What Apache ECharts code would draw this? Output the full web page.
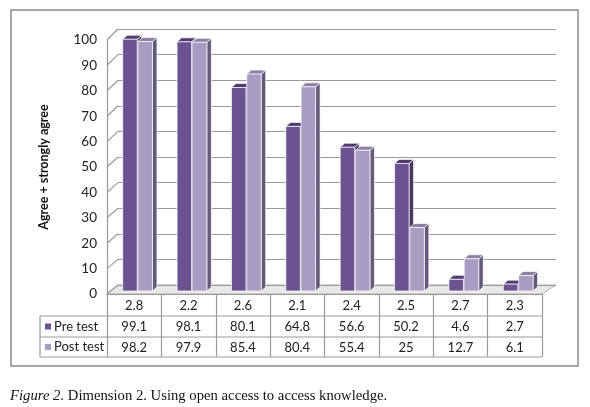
<!DOCTYPE html>
<html><head><meta charset="utf-8">
<script src="https://cdn.jsdelivr.net/npm/echarts@6/dist/echarts.min.js"></script>
<style>html,body{margin:0;padding:0;background:#fff}#c{width:590px;height:407px}</style>
</head><body><div id="c"></div>
<script>
const categories = ['2.8', '2.2', '2.6', '2.1', '2.4', '2.5', '2.7', '2.3'];
const seriesNames = ['Pre test', 'Post test'];
const preTest = [99.1, 98.1, 80.1, 64.8, 56.6, 50.2, 4.6, 2.7];
const postTest = [98.2, 97.9, 85.4, 80.4, 55.4, 25, 12.7, 6.1];
const yTicks = [0, 10, 20, 30, 40, 50, 60, 70, 80, 90, 100];
const yAxisTitle = 'Agree + strongly agree';
const captionItalic = 'Figure 2.';
const captionRest = ' Dimension 2. Using open access to access knowledge.';

const W = 590, H = 407;
const F = {l: 107, r: 542, t: 40, b: 294};   // front plane
const B = {l: 118, r: 556, t: 29, b: 285};   // back wall
const yMax = yTicks[yTicks.length - 1];
const colors = {
  pre:  {front: '#6B5392', top: '#4F3C70', side: '#48395F'},
  post: {front: '#A99CC2', top: '#8C80A6', side: '#625A78'}
};
const FONT = 'Lato, "Open Sans", sans-serif';
const TXT = '#222';

function makeRender(key, offFrac) {
  const c = colors[key];
  return function (params, api) {
    const i = api.value(0), v = api.value(1);
    const base = api.coord([i, 0]);
    const top = api.coord([i, v]);
    const bw = api.size([1, 0])[0];
    const w = bw * 0.266, dx = 4.5, dy = -4, lift = 3;
    const x0 = base[0] + bw * offFrac, x1 = x0 + w;
    const y0 = base[1] - lift, y1 = top[1] - lift;
    const st = {stroke: 'rgba(255,255,255,0.85)', lineWidth: 0.8};
    return {
      type: 'group',
      children: [
        {type: 'polygon', shape: {points: [[x1, y0], [x1 + dx, y0 + dy], [x1 + dx, y1 + dy], [x1, y1]]},
          style: Object.assign({fill: c.side}, st)},
        {type: 'polygon', shape: {points: [[x0, y1], [x1, y1], [x1 + dx, y1 + dy], [x0 + dx, y1 + dy]]},
          style: Object.assign({fill: c.top}, st)},
        {type: 'rect', shape: {x: x0, y: y1, width: w, height: y0 - y1},
          style: Object.assign({fill: c.front}, st)}
      ]
    };
  };
}

const fy = t => F.b - (F.b - F.t) * t / yMax;
const by = t => B.b - (B.b - B.t) * t / yMax;

const graphic = [];
graphic.push({type: 'rect', z: -10, shape: {x: 11, y: 10, width: 567, height: 356},
  style: {fill: 'none', stroke: '#8a8a8a', lineWidth: 1.5}});
graphic.push({type: 'polygon', z: -5, shape: {points: [[F.l, F.b], [F.r, F.b], [B.r, B.b], [B.l, B.b]]},
  style: {fill: '#e8e8e8', stroke: '#b0b0b0', lineWidth: 1}});
yTicks.forEach(t => {
  graphic.push({type: 'line', z: -4, shape: {x1: F.l, y1: fy(t), x2: B.l, y2: by(t)},
    style: {stroke: '#999', lineWidth: 1.2}});
});
const rowY = [316, 337, 357];
rowY.forEach(y => {
  graphic.push({type: 'line', shape: {x1: 40, y1: y, x2: F.r, y2: y}, style: {stroke: '#999', lineWidth: 1.2}});
});
graphic.push({type: 'line', shape: {x1: 40, y1: 316, x2: 40, y2: 357}, style: {stroke: '#999', lineWidth: 1.2}});
[['pre', 326.5], ['post', 347]].forEach((p, k) => {
  graphic.push({type: 'rect', shape: {x: 45, y: p[1] - 3, width: 6, height: 6}, style: {fill: colors[p[0]].front}});
  graphic.push({type: 'text', x: 54, y: p[1], style: {text: seriesNames[k], font: '13px ' + FONT,
    fill: TXT, verticalAlign: 'middle', align: 'left'}});
});
graphic.push({type: 'text', x: 10, y: 396, style: {
  text: '{i|' + captionItalic + '}{n|' + captionRest + '}', verticalAlign: 'middle',
  rich: {i: {font: 'italic 14.7px "Liberation Serif", serif', fill: '#111'},
         n: {font: '14.7px "Liberation Serif", serif', fill: '#111'}}}});

const chart = echarts.init(document.getElementById('c'), null, {renderer: 'canvas'});
chart.setOption({
  backgroundColor: '#fff',
  animation: false,
  grid: [
    {left: F.l, right: W - F.r, top: F.t, bottom: H - F.b},
    {left: B.l, right: W - B.r, top: B.t, bottom: H - B.b}
  ],
  xAxis: [
    {type: 'category', gridIndex: 0, data: categories,
      axisLine: {show: true, lineStyle: {color: '#999', width: 1.2}},
      axisTick: {show: true, interval: 0, length: 63, alignWithLabel: false, lineStyle: {color: '#999', width: 1.2}},
      axisLabel: {interval: 0, margin: 1, lineHeight: 21, fontSize: 13, color: TXT, fontFamily: FONT,
        formatter: (val, idx) => [val, preTest[idx], postTest[idx]].join('\n')},
      splitLine: {show: false}},
    {type: 'category', gridIndex: 1, data: categories, show: false}
  ],
  yAxis: [
    {type: 'value', gridIndex: 0, min: 0, max: yMax, interval: 10,
      axisLine: {show: true, lineStyle: {color: '#999', width: 1.2}},
      axisTick: {show: false},
      axisLabel: {margin: 10, fontSize: 13.5, color: TXT, fontFamily: FONT},
      splitLine: {show: false},
      name: yAxisTitle, nameLocation: 'middle', nameGap: 57, nameRotate: 90,
      nameTextStyle: {fontWeight: 'bold', fontSize: 12.5, color: '#111', fontFamily: FONT}},
    {type: 'value', gridIndex: 1, min: 0, max: yMax, interval: 10,
      axisLine: {show: false}, axisTick: {show: false}, axisLabel: {show: false},
      splitLine: {show: true, lineStyle: {color: '#999', width: 1.2}}}
  ],
  series: [
    {type: 'custom', name: seriesNames[0], xAxisIndex: 0, yAxisIndex: 0, z: 5,
      renderItem: makeRender('pre', -0.211), data: preTest.map((v, i) => [i, v]), encode: {x: 0, y: 1}},
    {type: 'custom', name: seriesNames[1], xAxisIndex: 0, yAxisIndex: 0, z: 6,
      renderItem: makeRender('post', 0.07), data: postTest.map((v, i) => [i, v]), encode: {x: 0, y: 1}}
  ],
  graphic: graphic
});
</script></body></html>
